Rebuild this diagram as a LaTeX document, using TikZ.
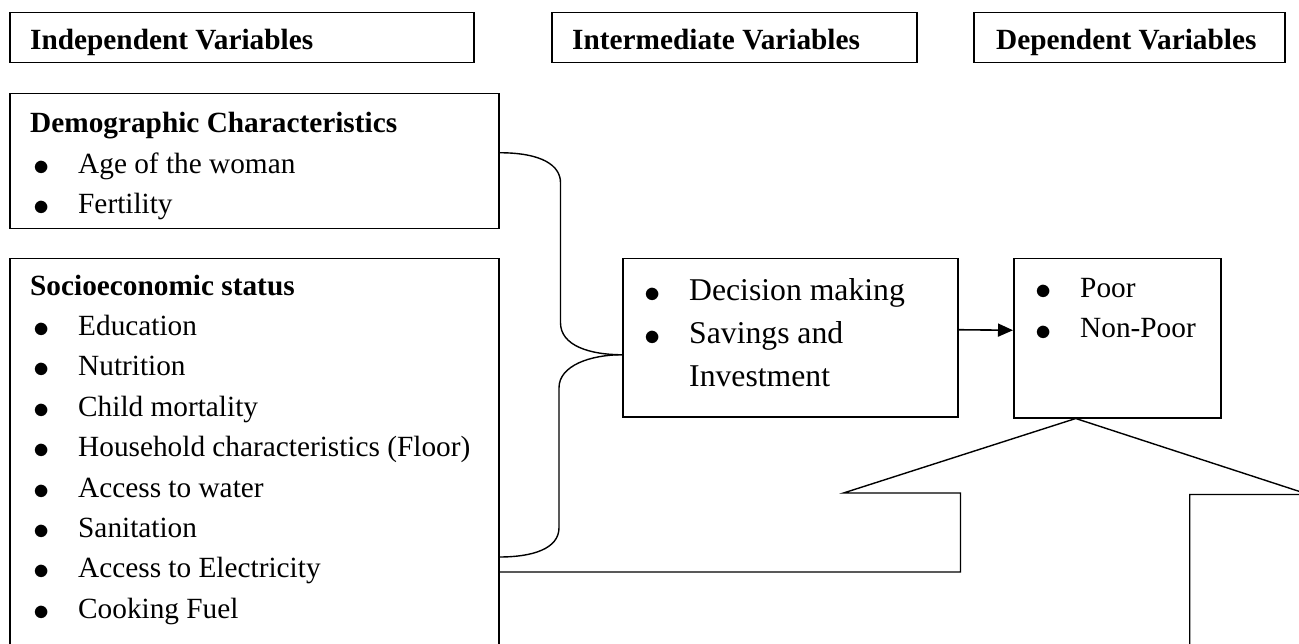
\documentclass[tikz,border=0pt]{standalone}
\usepackage{fontspec}
\setmainfont{Liberation Serif}
\usetikzlibrary{arrows.meta}
\newcommand{\itm}[1]{\hspace*{3pt}\makebox[45pt][l]{\raisebox{-2pt}{\scalebox{1.3}{$\bullet$}}}#1}

\begin{document}
\begin{tikzpicture}[x=1pt, y=-1pt,
  box/.style={draw, line width=1.5pt, inner sep=0pt, anchor=north west},
  txt/.style={inner sep=0pt, anchor=base west, align=left, font=\fontsize{29.3}{40.4}\selectfont}]
\useasboundingbox (0,0) rectangle (1299,644);
\clip (0,0) rectangle (1299,644);
% column headings
\node[box, minimum width=464pt, minimum height=50pt] (h1) at (9,12) {};
\node[box, minimum width=365pt, minimum height=50pt] (h2) at (551,12) {};
\node[box, minimum width=311pt, minimum height=50pt] (h3) at (973,12) {};
\node[txt] (th1) at ([xshift=21pt,yshift=-38pt]h1.north west) {\textbf{Independent Variables}};
\node[txt] (th2) at ([xshift=21pt,yshift=-38pt]h2.north west) {\textbf{Intermediate Variables}};
\node[txt] (th3) at ([xshift=23pt,yshift=-38pt]h3.north west) {\textbf{Dependent Variables}};
% boxes
\node[box, minimum width=489pt, minimum height=135pt] (n1) at (9,93) {};
\node[box, minimum width=489pt, minimum height=450pt] (n2) at (9,258) {};
\node[box, minimum width=335pt, minimum height=158pt] (n3) at (622,258) {};
\node[box, minimum width=207pt, minimum height=159pt] (n4) at (1013,258) {};
% texts sit on the baseline of their last line
\node[txt] (t1) at ([xshift=21pt,yshift=-120.8pt]n1.north west)
  {\textbf{Demographic Characteristics}\\\itm{Age of the woman}\\\itm{Fertility}};
\node[txt] (t2) at ([xshift=21pt,yshift=-360.2pt]n2.north west)
  {\textbf{Socioeconomic status}\\\itm{Education}\\\itm{Nutrition}\\\itm{Child mortality}\\
   \itm{Household characteristics (Floor)}\\\itm{Access to water}\\\itm{Sanitation}\\
   \itm{Access to Electricity}\\\itm{Cooking Fuel}};
\node[txt, font=\fontsize{31.7}{43.5}\selectfont] (t3) at ([xshift=19pt,yshift=-129pt]n3.north west)
  {\itm{Decision making}\\\itm{Savings and}\\\hspace*{48pt}Investment};
\node[txt] (t4) at ([xshift=19pt,yshift=-80pt]n4.north west)
  {\itm{Poor}\\\itm{Non-Poor}};
% brace joining the two independent boxes
\coordinate (b1) at ([yshift=8.5pt]n1.east);
\coordinate (b0) at ([yshift=-17pt]n3.west);
\coordinate (b2) at ([yshift=-299pt]n2.north east);
\draw[line width=1.4pt] (b1) .. controls +(43,0) and +(0,-17) .. ++(61,30) -- ++(0,140)
  .. controls +(0,23) and +(-32,0) .. (b0);
\draw[line width=1.4pt] (b0) .. controls +(-32,0) and +(0,-22) .. ++(-63,33) -- ++(0,140)
  .. controls +(0,21) and +(33,0) .. (b2);
\draw[-{Triangle[length=15pt,width=13pt]}, line width=1.6pt] ([yshift=8pt]n3.east) -- ([yshift=8pt]n4.west);
% bent block arrow up to the outcome
\coordinate (a0) at ([yshift=-314pt]n2.north east);
\coordinate (a1) at ([xshift=-41.5pt]n4.south);
\draw[line width=1.4pt] (a0) -- ++(461,0) -- ++(0,-79) -- ++(-117,0) -- (a1) -- ++(233,76)
  -- ++(-119,0) -- ++(0,200);
\end{tikzpicture}
\end{document}
